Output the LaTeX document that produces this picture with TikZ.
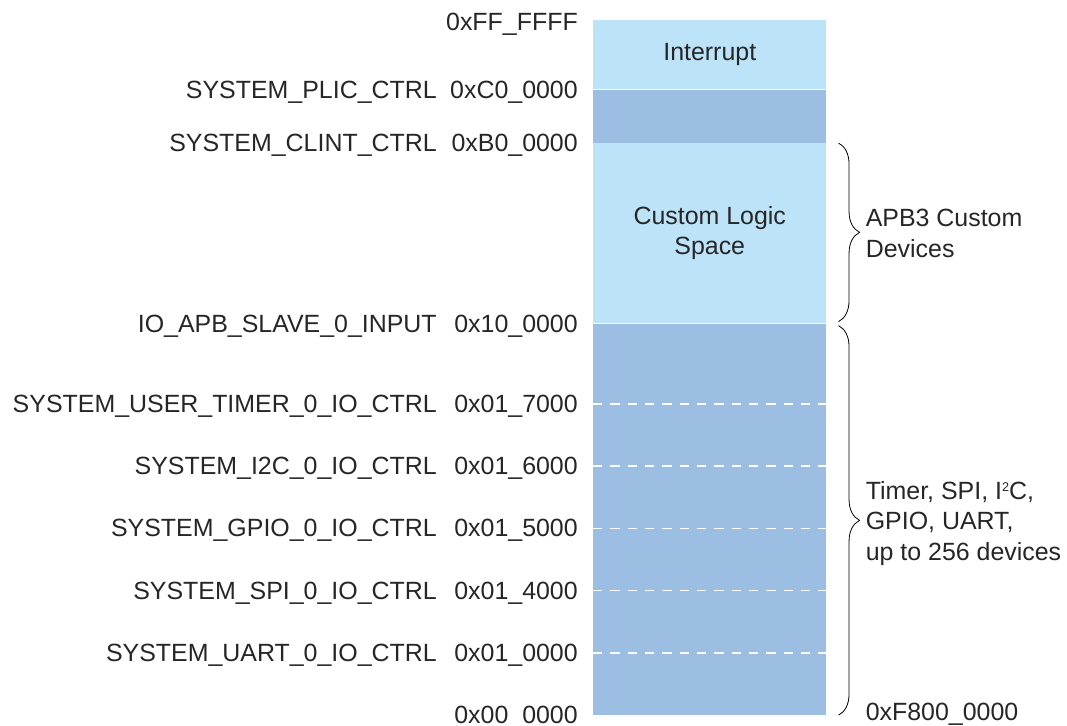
\documentclass[tikz,border=0pt]{standalone}
\usepackage{fontspec}
\setmainfont{Liberation Sans}
\usetikzlibrary{positioning,calc,decorations.pathreplacing}
\definecolor{memlight}{RGB}{189,227,248}
\definecolor{memdark}{RGB}{155,190,226}
\tikzstyle{region}=[rectangle,inner sep=0pt,minimum width=174.75pt,
font=\fontsize{18.7}{22.8}\selectfont,align=center,text=black!85]
\tikzstyle{lregion}=[region,fill=memlight]
\tikzstyle{dregion}=[region,fill=memdark]
\tikzstyle{addr}=[inner sep=0pt,text height=12.9pt,text depth=0pt,
font=\fontsize{18.7}{22.8}\selectfont,text=black!85]
\tikzstyle{regname}=[addr]
\tikzstyle{note}=[inner sep=0pt,align=left,
font=\fontsize{18.7}{22.8}\selectfont,text=black!85]
\tikzstyle{divider}=[white,line width=1.1pt,dash pattern=on 7pt off 6pt]
\tikzstyle{bracket}=[decorate,decoration={brace,amplitude=15.75pt},line width=0.6pt]
\newcommand{\sqr}{\raisebox{6.2pt}{\fontsize{9.5}{9.5}\selectfont 2}}

\begin{document}
\begin{tikzpicture}
            \useasboundingbox (0,0) rectangle (800.25pt,-543.75pt);

            % MEMORY REGIONS

            \node[lregion,minimum height=51.75pt,anchor=north west] (intr) at (444.75pt,-15pt) {Interrupt};
            \node[dregion,minimum height=39.75pt,below=0pt of intr] (clint) {};
            \node[lregion,minimum height=135pt,below=0pt of clint] (custom) {Custom Logic\\Space};
            \node[dregion,minimum height=293.25pt,below=0pt of custom] (apb) {};

            \foreach \i in {1,...,5}{
                \coordinate (dl\i) at ($(apb.south west)+(0,\i*46.7pt)$);
                \coordinate (dr\i) at ($(apb.south east)+(0,\i*46.7pt)$);
                \draw[divider] (dl\i) -- (dr\i);
            }

            % ADDRESSES

            \node[addr,left=11.25pt of intr.north west,yshift=-1.5pt] (aFF) {0xFF\_FFFF};
            \node[addr,left=11.25pt of clint.north west] (aC0) {0xC0\_0000};
            \node[addr,left=11.25pt of custom.north west] (aB0) {0xB0\_0000};
            \node[addr,left=11.25pt of apb.north west] (a10) {0x10\_0000};
            \node[addr,left=11.25pt of dl5] (a017) {0x01\_7000};
            \node[addr,left=11.25pt of dl4] (a016) {0x01\_6000};
            \node[addr,left=11.25pt of dl3] (a015) {0x01\_5000};
            \node[addr,left=11.25pt of dl2] (a014) {0x01\_4000};
            \node[addr,left=11.25pt of dl1] (a010) {0x01\_0000};
            \node[addr,left=11.25pt of apb.south west] (a00) {0x00\_0000};

            % NAMES

            \node[regname,left=117pt of clint.north west] (plic) {SYSTEM\_PLIC\_CTRL};
            \node[regname,left=117pt of custom.north west] (clnt) {SYSTEM\_CLINT\_CTRL};
            \node[regname,left=117pt of apb.north west] (slave) {IO\_APB\_SLAVE\_0\_INPUT};
            \node[regname,left=117pt of dl5] (timer) {SYSTEM\_USER\_TIMER\_0\_IO\_CTRL};
            \node[regname,left=117pt of dl4] (i2c) {SYSTEM\_I2C\_0\_IO\_CTRL};
            \node[regname,left=117pt of dl3] (gpio) {SYSTEM\_GPIO\_0\_IO\_CTRL};
            \node[regname,left=117pt of dl2] (spi) {SYSTEM\_SPI\_0\_IO\_CTRL};
            \node[regname,left=117pt of dl1] (uart) {SYSTEM\_UART\_0\_IO\_CTRL};

            % BRACES

            \coordinate (ut) at ($(custom.north east)+(9pt,0)$);
            \coordinate (ub) at ($(custom.south east)+(9pt,1.5pt)$);
            \coordinate (lt) at ($(apb.north east)+(9pt,-1.5pt)$);
            \coordinate (lb) at ($(apb.south east)+(9pt,0)$);
            \draw[bracket] (ut) -- (ub);
            \draw[bracket] (lt) -- (lb);

            \node[note,right=29.25pt of custom.east] (apb3) {APB3 Custom\\Devices};
            \node[note,right=29.25pt of apb.east,yshift=-3pt] (dev) {Timer, SPI, I\sqr C,\\GPIO, UART,\\up to 256 devices};
            \node[addr,right=29.25pt of apb.south east,yshift=2.5pt] (aF8) {0xF800\_0000};

        \end{tikzpicture}
\end{document}
